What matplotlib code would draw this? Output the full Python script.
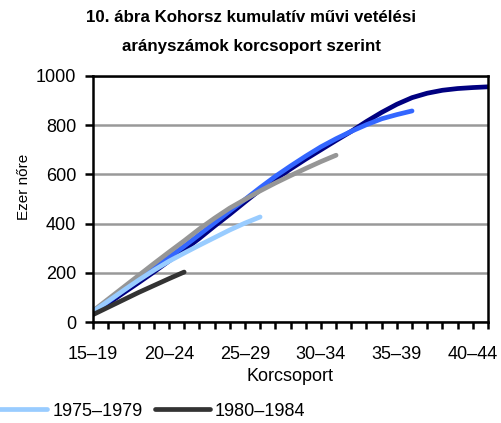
import matplotlib
matplotlib.use("Agg")
import matplotlib.pyplot as plt
from matplotlib.ticker import MultipleLocator, FixedLocator

plt.rcParams['font.family'] = ['Liberation Sans', 'DejaVu Sans']

tick_labels = ["15–19", "20–24", "25–29", "30–34", "35–39", "40–44"]

c1960 = [33, 75, 118, 160, 203, 248, 293, 340, 390, 438, 488, 537, 580, 622,
         662, 700, 738, 775, 815, 852, 885, 912, 930, 942, 949, 953, 956]
c1965 = [38, 83, 128, 173, 218, 263, 308, 355, 403, 451, 498, 546, 592, 634,
         674, 712, 745, 775, 802, 826, 843, 858]
c1970 = [45, 93, 141, 189, 237, 284, 330, 378, 422, 463, 498, 533, 565, 595,
         624, 652, 678]
c1975 = [42, 85, 128, 170, 210, 247, 280, 312, 343, 374, 402, 427]
c1980 = [30, 60, 90, 120, 148, 176, 203]

series = [
    ("1960–1964", c1960, "#000080"),
    ("1965–1969", c1965, "#3366FF"),
    ("1970–1974", c1970, "#969696"),
    ("1975–1979", c1975, "#99CCFF"),
    ("1980–1984", c1980, "#333333"),
]

fs = 13

W, H = 501, 423
fig = plt.figure(figsize=(W/100, H/100), dpi=100)
ax = fig.add_axes([93/W, 1-322/H, (488-93)/W, (322-76)/H])

handles = {}
for name, vals, col in series:
    ln, = ax.plot(range(len(vals)), vals, color=col, lw=3.4,
                  solid_capstyle='round')
    handles[name] = ln

ax.set_xlim(0, 26)
ax.set_ylim(0, 1000)
ax.yaxis.set_major_locator(MultipleLocator(200))
ax.xaxis.set_major_locator(FixedLocator([0, 5, 10, 15, 20, 25]))
ax.set_xticklabels(tick_labels)
ax.xaxis.set_minor_locator(MultipleLocator(1))
ax.grid(axis='y', color='#999999', lw=1.8)
ax.set_axisbelow(True)
for s in ax.spines.values():
    s.set_linewidth(1.8)
    s.set_color('black')
ax.tick_params(axis='y', direction='out', length=6, width=1.8, labelsize=fs, pad=6)
ax.tick_params(axis='x', which='both', direction='out', length=5, width=1.8,
               labelsize=fs, pad=12)
ax.set_ylabel("Ezer nőre", fontsize=11, va='center')
ax.yaxis.set_label_coords((24-93)/395, 1-(187-76)/246)
ax.set_xlabel("Korcsoport", fontsize=fs, va='center')
ax.xaxis.set_label_coords(0.5, -(376-322)/246)

title_x = 251/W
fig.text(title_x, 1-18/H, "10. ábra Kohorsz kumulatív művi vetélési",
         fontsize=12.2, fontweight='bold', ha='center', va='center')
fig.text(title_x, 1-47/H, "arányszámok korcsoport szerint",
         fontsize=12.2, fontweight='bold', ha='center', va='center')

leg = fig.legend([handles["1975–1979"], handles["1980–1984"]],
                 ["1975–1979", "1980–1984"], loc='center left',
                 bbox_to_anchor=(-7/W, 1-411/H), frameon=False,
                 ncol=2, fontsize=fs, handlelength=3.0, handletextpad=0.3,
                 columnspacing=0.7, borderpad=0, borderaxespad=0)

fig.savefig("out.png", dpi=100)
